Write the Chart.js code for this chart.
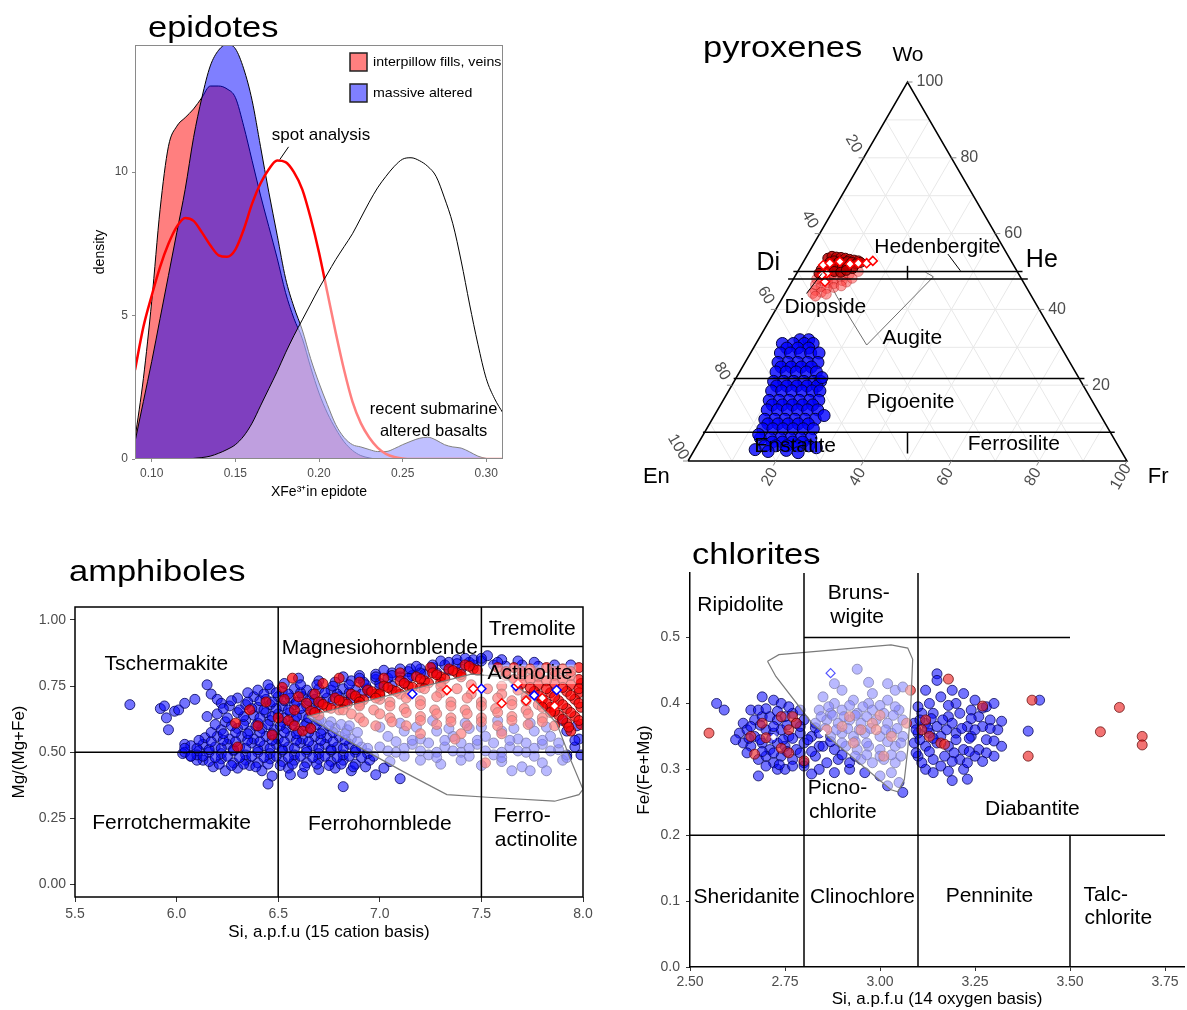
<!DOCTYPE html>
<html lang="en">
<head>
<meta charset="UTF-8">
<title>epidotes, pyroxenes, amphiboles, chlorites</title>
<script src="https://cdn.jsdelivr.net/npm/chart.js"></script>
<style>
  html, body { margin: 0; padding: 0; background: #fff; }
  body { position: relative; width: 1187px; height: 1010px; overflow: hidden; }
  canvas { position: absolute; }
  #epiChart { left: 0; top: 0; }
  #pyxChart { left: 630px; top: 0; }
  #ampChart { left: 0; top: 540px; }
  #chlChart { left: 620px; top: 530px; }
</style>
</head>
<body>
<canvas id="epiChart" width="560" height="510"></canvas>
<canvas id="pyxChart" width="557" height="500"></canvas>
<canvas id="ampChart" width="600" height="410"></canvas>
<canvas id="chlChart" width="570" height="490"></canvas>
<script>
// ---------- data: epidotes (density curves) ----------
const epiX = [0.090,0.095,0.100,0.105,0.110,0.115,0.120,0.125,0.130,0.135,0.140,0.145,0.150,0.155,0.160,
  0.165,0.170,0.175,0.180,0.185,0.190,0.195,0.200,0.205,0.210,0.215,0.220,0.225,0.230,0.235,
  0.240,0.245,0.250,0.255,0.260,0.265,0.270,0.275,0.280,0.285,0.290,0.295,0.300,0.305,0.310];
const epiInterpillow = [0.7,2.8,5.5,8.7,10.9,11.6,11.9,12.2,12.6,13.0,13.0,12.9,12.6,11.6,10.4,
  9.2,8.1,7.0,5.8,4.9,4.2,3.2,2.3,1.6,1.05,0.6,0.3,0.12,0.04,0,
  0,0,0,0,0,0,0,0,0,0,0,0,0,0,0];
const epiMassive = [0.6,2.0,3.4,4.9,6.4,7.9,9.4,11.2,12.6,13.7,14.25,14.45,14.3,13.6,12.5,
  10.9,9.3,7.8,6.3,5.3,4.5,3.5,2.65,1.9,1.2,0.75,0.5,0.42,0.33,0.26,
  0.26,0.36,0.5,0.62,0.72,0.76,0.66,0.5,0.42,0.38,0.25,0.1,0.02,0,0];
const epiSpot = [3.1,4.6,5.7,6.7,7.5,8.1,8.4,8.3,7.9,7.45,7.1,7.05,7.3,8.0,8.9,
  9.6,10.1,10.4,10.35,10.0,9.4,8.4,7.2,5.8,4.4,3.1,2.0,1.25,0.75,0.4,
  0.18,0.07,0.02,0,0,0,0,0,0,0,0,0,0,0,0];
const epiRecent = [0,0,0,0,0,0,0,0.02,0.05,0.1,0.2,0.33,0.5,0.8,1.25,
  1.85,2.45,3.05,3.7,4.3,4.85,5.4,5.95,6.45,6.95,7.4,7.85,8.4,8.95,9.45,
  9.85,10.2,10.45,10.5,10.4,10.2,9.85,9.1,8.2,6.9,5.4,4.0,2.8,2.1,1.6];
const epiTicksX = [0.10,0.15,0.20,0.25,0.30];
const epiTicksY = [0,5,10];

// ---------- data: pyroxenes, [Wo, Fs] in % ----------
const pyxBlue = [
  [32,9.5],[32,11.5],[31,6.0],[31,8.5],[31,11.0],[31,13.0],[29.8,7.6],[29.8,10.1],[29.8,12.6],
  [28.5,6.8],[28.5,9.1],[28.5,11.4],[28.5,13.7],[28.5,15.6],[26,7.5],[26,9.8],[26,12.0],[26,14.3],[26,16.6],
  [24.8,8.8],[24.8,11.1],[24.8,13.4],[24.8,15.7],[23.5,8.3],[23.5,10.6],[23.5,12.9],[23.5,15.2],[23.5,17.5],
  [21,9.0],[21,11.3],[21,13.6],[21,15.9],[21,18.2],[21,19.7],[19.8,10.3],[19.8,12.6],[19.8,14.9],[19.8,17.2],[19.8,19.5],
  [18.5,9.8],[18.5,12.1],[18.5,14.4],[18.5,16.7],[18.5,19.0],[18.5,20.8],[16,10.5],[16,12.8],[16,15.1],[16,17.4],[16,19.7],[16,21.8],
  [14.8,11.8],[14.8,14.1],[14.8,16.4],[14.8,18.7],[14.8,21.0],[13.5,11.3],[13.5,13.6],[13.5,15.9],[13.5,18.2],[13.5,20.5],[13.5,22.8],
  [11,12.0],[11,14.3],[11,16.6],[11,18.9],[11,21.2],[11,23.5],[9.8,13.3],[9.8,15.6],[9.8,17.9],[9.8,20.2],[9.8,22.5],
  [8.5,12.8],[8.5,15.1],[8.5,17.4],[8.5,19.7],[8.5,22.0],[8.5,24.3],[6,13.5],[6,15.8],[6,18.1],[6,20.4],[6,22.7],[6,25.0],
  [5,16.7],[5,19.0],[5,21.3],[5,23.6],[4,15.5],[4,18.0],[4,20.5],[4,23.0],[4,25.5],
  [3.5,27.5],[12,25.0],[22,19.5],[7,12.6],[2.5,17.0],[2.8,21.0],[2.2,24.0],[3.0,13.8]
];
const pyxRedDark = [
  [53.5,5.1],[54.0,5.8],[53.8,6.9],[53.7,8.0],[53.5,9.1],[53.2,10.2],[53.0,11.3],[52.8,12.4],
  [52.5,6.1],[52.8,6.9],[52.5,8.1],[52.3,9.2],[52.6,10.0],[52.4,11.1],[52.0,12.3],[52.4,13.1],
  [51.5,5.6],[51.2,6.9],[51.5,8.1],[51.0,9.6],[51.2,10.7],[50.8,12.1],[50.2,6.7],[50.0,8.3],
  [49.8,9.9],[50.3,10.9],[50.5,5.1],[49.5,5.1]
];
const pyxRedLight = [
  [49.0,6.3],[48.5,7.8],[48.0,9.3],[48.8,10.8],[47.5,6.8],[47.0,8.3],[46.8,9.8],[47.6,11.3],
  [46.0,7.3],[45.5,8.8],[45.0,6.5],[44.5,8.1],[44.2,6.3],[45.8,10.3],[46.5,5.8],[48.0,5.3],
  [49.5,8.3],[49.2,12.1],[47.2,12.5],[46.2,11.8],[48.2,13.3],[50.0,13.8],[44.0,9.5],[43.5,7.3]
];
const pyxSpot = [[51.7,4.95],[52.2,6.2],[52.6,8.3],[52.0,10.9],[52.2,12.7],[52.2,14.6],[52.8,15.7],
  [49.5,6.85],[47.3,7.55],[49.1,5.95]];
const pyxField = [[49.9,7.35],[49.9,29.05],[48.6,31.6],[30.6,25.4],[43.4,12.2],[47.0,8.8],[49.9,7.35]];
const pyxFrame = [[0,0],[0,100],[100,0],[0,0]];
const pyxBounds = [
  [[50,-1],[50,51.2]], [[48,-1.2],[48,53.4]], [[21.8,-0.5],[21.8,79.4]], [[7.6,-0.4],[7.6,93.4]],
  [[47.9,26.05],[51.5,24.25]], [[7.6,46.2],[2.0,49.0]]
];
const pyxTicks = [20,40,60,80,100];

// ---------- data: amphiboles, [Si, Mg/(Mg+Fe)] ----------
const ampBlue = [
  [5.77,0.68],[5.92,0.665],[5.94,0.675],[5.95,0.63],[5.96,0.585],[5.99,0.655],[6.01,0.66],[6.04,0.685],[6.09,0.70],
  [6.04,0.53],[6.03,0.495],[6.07,0.485],[6.11,0.505],[6.13,0.47],[6.17,0.72],[6.15,0.755],[6.2,0.70],[6.22,0.685],
  [6.18,0.445],[6.24,0.43],[6.3,0.44],[6.36,0.45],[6.42,0.43],[6.47,0.41],[6.55,0.44],[6.62,0.42],[6.7,0.435],
  [6.78,0.44],[6.86,0.43],[6.93,0.445],[7.02,0.44],[7.1,0.40],[6.45,0.38],[6.82,0.37],[6.56,0.415],[6.98,0.415],
  [6.1,0.47],[6.16,0.465],[6.22,0.475],[6.28,0.46],[6.34,0.47],[6.4,0.46],[6.46,0.475],[6.52,0.465],[6.58,0.47],
  [6.64,0.46],[6.7,0.475],[6.76,0.465],[6.82,0.47],[6.88,0.455],[6.95,0.47],[7.05,0.465],
  [6.04,0.50],[6.1,0.49],[6.16,0.50],[6.22,0.495],[6.28,0.505],[6.34,0.49],[6.4,0.50],[6.46,0.495],[6.52,0.505],
  [6.58,0.49],[6.64,0.50],[6.7,0.495],[6.76,0.505],[6.82,0.49],[6.88,0.50],[6.94,0.495],
  [6.07,0.525],[6.13,0.53],[6.19,0.52],[6.25,0.53],[6.31,0.52],[6.37,0.535],[6.43,0.525],[6.49,0.53],[6.55,0.52],
  [6.61,0.535],[6.67,0.525],[6.73,0.53],[6.79,0.52],[6.85,0.53],[6.91,0.52],
  [6.14,0.555],[6.2,0.56],[6.26,0.55],[6.32,0.56],[6.38,0.55],[6.44,0.56],[6.5,0.55],[6.56,0.56],[6.62,0.55],
  [6.68,0.56],[6.74,0.555],[6.8,0.56],[6.86,0.55],
  [6.22,0.585],[6.3,0.59],[6.36,0.58],[6.42,0.59],[6.48,0.585],[6.54,0.59],[6.6,0.58],[6.66,0.59],[6.72,0.585],
  [6.78,0.59],[6.84,0.585],
  [6.24,0.615],[6.34,0.62],[6.4,0.61],[6.46,0.62],[6.52,0.615],[6.58,0.62],[6.64,0.61],[6.7,0.62],[6.76,0.615],
  [6.2,0.645],[6.3,0.65],[6.38,0.64],[6.44,0.65],[6.5,0.645],[6.56,0.65],[6.62,0.64],[6.68,0.65],
  [6.26,0.675],[6.34,0.68],[6.4,0.67],[6.46,0.68],[6.52,0.675],[6.58,0.68],[6.64,0.675],[6.7,0.68],
  [6.3,0.705],[6.38,0.71],[6.44,0.70],[6.5,0.71],[6.56,0.705],[6.62,0.71],[6.68,0.70],[6.74,0.705],[6.8,0.71],[6.86,0.705],
  [6.4,0.735],[6.46,0.74],[6.52,0.73],[6.58,0.74],[6.64,0.735],[6.7,0.74],[6.76,0.735],[6.82,0.74],[6.88,0.735],
  [6.94,0.74],[7.0,0.745],[7.06,0.75],[7.12,0.76],
  [6.78,0.765],[6.86,0.77],[6.92,0.765],[6.98,0.775],[7.04,0.78],[7.1,0.785],[7.16,0.79],[7.22,0.795],[7.28,0.80],
  [7.34,0.81],[7.4,0.815],[7.46,0.83],
  [6.9,0.79],[6.98,0.795],[7.06,0.80],[7.14,0.805],[7.2,0.815],[7.26,0.82],[7.32,0.83],[7.38,0.835],[7.44,0.84],
  [7.5,0.845],[7.56,0.83],[7.62,0.825],[7.7,0.83],[7.78,0.825],[7.86,0.83],[7.94,0.83],
  [7.3,0.845],[7.38,0.85],[7.46,0.85],[7.53,0.865],[7.6,0.85],[7.68,0.845],[7.76,0.84],[7.15,0.815],[6.6,0.78],[6.7,0.77],
  [6.21,0.455],[6.27,0.45],[6.33,0.455],[6.39,0.445],[6.45,0.455],[6.51,0.45],[6.57,0.455],[6.63,0.445],[6.69,0.455],
  [6.75,0.45],[6.81,0.455],[6.87,0.445],
  [6.07,0.485],[6.13,0.485],[6.19,0.48],[6.25,0.485],[6.31,0.48],[6.37,0.485],[6.43,0.48],[6.49,0.485],[6.55,0.48],
  [6.61,0.485],[6.67,0.48],[6.73,0.485],[6.79,0.48],[6.85,0.485],[6.91,0.48],[6.97,0.485],
  [6.04,0.515],[6.1,0.515],[6.16,0.51],[6.22,0.515],[6.28,0.51],[6.34,0.515],[6.4,0.51],[6.46,0.515],[6.52,0.51],
  [6.58,0.515],[6.64,0.51],[6.7,0.515],[6.76,0.51],[6.82,0.515],[6.88,0.51],[6.94,0.515],
  [6.11,0.545],[6.17,0.54],[6.23,0.545],[6.29,0.54],[6.35,0.545],[6.41,0.54],[6.47,0.545],[6.53,0.54],[6.59,0.545],
  [6.65,0.54],[6.71,0.545],[6.77,0.54],[6.83,0.545],[6.89,0.54],
  [6.17,0.575],[6.23,0.57],[6.29,0.575],[6.35,0.57],[6.41,0.575],[6.47,0.57],[6.53,0.575],[6.59,0.57],[6.65,0.575],
  [6.71,0.57],[6.77,0.575],[6.83,0.57],[6.89,0.575],
  [6.19,0.605],[6.27,0.6],[6.33,0.605],[6.39,0.6],[6.45,0.605],[6.51,0.6],[6.57,0.605],[6.63,0.6],[6.69,0.605],
  [6.75,0.6],[6.81,0.605],[6.85,0.6],
  [6.15,0.635],[6.25,0.63],[6.33,0.635],[6.41,0.63],[6.47,0.635],[6.53,0.63],[6.59,0.635],[6.65,0.63],[6.71,0.62],
  [6.23,0.665],[6.31,0.66],[6.37,0.665],[6.43,0.66],[6.49,0.665],[6.55,0.66],[6.61,0.665],[6.67,0.66],
  [6.27,0.695],[6.35,0.69],[6.41,0.695],[6.47,0.69],[6.53,0.695],[6.59,0.69],[6.65,0.695],[6.71,0.69],[6.77,0.695],[6.83,0.69],
  [6.35,0.725],[6.43,0.72],[6.49,0.725],[6.55,0.72],[6.61,0.725],[6.67,0.72],[6.73,0.725],[6.79,0.72],[6.85,0.725],
  [6.91,0.72],[6.95,0.725],
  [6.45,0.755],[6.53,0.76],[6.61,0.755],[6.69,0.755],[6.77,0.75],[6.85,0.755],[6.93,0.755],[7.0,0.76],
  [6.82,0.785],[6.9,0.78],[6.98,0.785],[7.06,0.79],[7.14,0.78],[7.2,0.8],
  [7.02,0.81],[7.1,0.815],[7.18,0.825],[7.26,0.83],[7.34,0.84],[7.42,0.855],[7.5,0.855],[7.58,0.84],
  [7.0,0.52],[7.08,0.50],[7.16,0.53],[7.24,0.49],[7.32,0.52],[7.4,0.50],[7.48,0.53],[7.56,0.49],[7.64,0.52],
  [7.72,0.50],[7.8,0.53],[7.88,0.51],[7.96,0.52],
  [7.04,0.56],[7.12,0.58],[7.2,0.55],[7.28,0.58],[7.36,0.56],[7.44,0.59],[7.52,0.56],[7.6,0.58],[7.68,0.55],
  [7.76,0.58],[7.84,0.56],[7.92,0.58],
  [7.2,0.47],[7.3,0.455],[7.4,0.47],[7.5,0.45],[7.6,0.465],[7.7,0.445],[7.8,0.46],[7.9,0.47],[7.65,0.43],[7.74,0.43],[7.82,0.43],
  [7.1,0.61],[7.26,0.62],[7.42,0.61],[7.58,0.62],[7.74,0.61],[7.9,0.62],[7.97,0.60],[7.98,0.55],[7.99,0.49],
  [7.04,0.505],[7.12,0.515],[7.2,0.505],[7.28,0.5],[7.36,0.505],[7.44,0.515],[7.52,0.505],[7.6,0.5],[7.68,0.505],
  [7.76,0.515],[7.84,0.505],[7.92,0.49],
  [7.08,0.54],[7.16,0.545],[7.24,0.535],[7.32,0.545],[7.4,0.535],[7.48,0.545],[7.56,0.535],[7.64,0.545],[7.72,0.535],
  [7.8,0.545],[7.88,0.535],[7.96,0.545],
  [7.0,0.595],[7.18,0.595],[7.34,0.59],[7.5,0.595],[7.66,0.59],[7.82,0.595],
  [7.12,0.485],[7.28,0.48],[7.44,0.485],[7.6,0.48],[7.76,0.485],[7.92,0.48]
];
const ampRed = [
  [6.3,0.52],[6.29,0.61],[6.44,0.69],[6.4,0.60],[6.5,0.63],[6.55,0.62],[6.58,0.60],[6.57,0.78],[6.53,0.70],
  [6.47,0.565],[6.62,0.58],[6.66,0.59],[6.52,0.745],[6.6,0.71],[6.58,0.66],[6.68,0.72],[6.72,0.76],[6.8,0.78],
  [6.9,0.765],[7.02,0.78],[7.1,0.80],[7.25,0.82],[6.36,0.66],[6.64,0.685],
  [6.66,0.655],[6.74,0.67],[6.82,0.69],[6.9,0.70],[6.98,0.72],[7.06,0.735],[7.14,0.75],[7.22,0.77],[7.3,0.785],
  [7.38,0.80],[7.46,0.815],
  [6.7,0.69],[6.78,0.705],[6.86,0.72],[6.94,0.735],[7.02,0.75],[7.1,0.77],[7.18,0.785],[7.26,0.80],[7.34,0.815],[7.42,0.83],
  [6.7,0.64],[6.8,0.66],[6.9,0.68],[7.0,0.70],[7.1,0.72],[7.2,0.745],[7.3,0.765],[7.4,0.785],
  [6.68,0.65],[6.76,0.666],[6.84,0.682],[6.92,0.698],[7.0,0.714],[7.08,0.73],[7.16,0.746],[7.24,0.762],[7.32,0.778],
  [7.4,0.794],[7.48,0.81],
  [6.72,0.681],[6.8,0.697],[6.88,0.713],[6.96,0.729],[7.04,0.745],[7.12,0.761],[7.2,0.777],[7.28,0.793],[7.36,0.809],[7.44,0.825],
  [7.58,0.82],[7.66,0.82],[7.74,0.815],[7.82,0.82],[7.9,0.815],[7.98,0.82],
  [7.62,0.79],[7.7,0.79],[7.78,0.785],[7.86,0.79],[7.94,0.79],
  [7.7,0.76],[7.78,0.755],[7.86,0.76],[7.94,0.755],[7.99,0.76],
  [7.76,0.73],[7.84,0.725],[7.92,0.73],[7.98,0.725],[7.8,0.70],[7.88,0.695],[7.96,0.70],
  [7.84,0.67],[7.92,0.665],[7.99,0.67],[7.88,0.64],[7.96,0.635],[7.92,0.61],[7.99,0.605],[7.94,0.58],
  [7.62,0.805],[7.7,0.805],[7.78,0.8],[7.86,0.805],[7.94,0.805],
  [7.66,0.775],[7.74,0.775],[7.82,0.77],[7.9,0.775],[7.98,0.775],
  [7.74,0.745],[7.82,0.74],[7.9,0.745],[7.98,0.74],[7.78,0.715],[7.86,0.71],[7.94,0.715],
  [7.82,0.685],[7.9,0.68],[7.98,0.685],[7.86,0.655],[7.94,0.65],[7.9,0.625],[7.98,0.62],[7.93,0.595],
  [7.3,0.75],[7.45,0.755],[7.6,0.75],
  [7.0,0.72],[7.15,0.72],[7.3,0.725],[7.45,0.72],[7.6,0.72],[7.72,0.71],
  [6.9,0.69],[7.05,0.69],[7.2,0.695],[7.35,0.69],[7.5,0.69],[7.65,0.695],[7.78,0.68],
  [6.82,0.66],[6.97,0.66],[7.12,0.665],[7.27,0.66],[7.42,0.66],[7.57,0.665],[7.72,0.66],[7.84,0.65],
  [6.9,0.63],[7.05,0.63],[7.2,0.635],[7.35,0.63],[7.5,0.63],[7.65,0.635],[7.8,0.63],
  [6.98,0.60],[7.13,0.60],[7.28,0.605],[7.43,0.60],[7.58,0.60],[7.73,0.605],[7.86,0.60],
  [6.98,0.705],[7.13,0.705],[7.28,0.71],[7.43,0.705],[7.58,0.705],[7.72,0.695],
  [6.9,0.675],[7.05,0.675],[7.2,0.68],[7.35,0.675],[7.5,0.675],[7.65,0.68],[7.8,0.67],
  [6.86,0.645],[7.0,0.645],[7.13,0.65],[7.28,0.645],[7.43,0.645],[7.58,0.65],[7.73,0.645],
  [6.92,0.615],[7.06,0.615],[7.2,0.62],[7.35,0.615],[7.5,0.615],[7.65,0.62],[7.8,0.615],
  [7.22,0.74],[7.38,0.74],[7.53,0.74],[7.68,0.735],
  [7.2,0.57],[7.4,0.57],[7.6,0.57],[7.52,0.46],[7.37,0.55]
];
const ampSpotRed = [[7.33,0.735],[7.46,0.74],[7.6,0.685],[7.72,0.695],[7.68,0.76],[7.8,0.705],[7.86,0.675]];
const ampSpotBlue = [[7.16,0.72],[7.5,0.74],[7.67,0.75],[7.76,0.715],[7.87,0.735]];
const ampField = [[6.64,0.635],[7.45,0.795],[7.61,0.785],[7.76,0.70],[7.87,0.61],[7.94,0.47],[8.0,0.36],
  [7.98,0.34],[7.86,0.315],[7.53,0.33],[7.33,0.34],[7.12,0.425],[6.92,0.51],[6.64,0.635]];
const ampBounds = [[[6.5,-0.05],[6.5,1.05]], [[7.5,-0.05],[7.5,1.05]], [[5.5,0.5],[8.0,0.5]], [[7.5,0.9],[8.0,0.9]]];
const ampTicksX = [5.5,6.0,6.5,7.0,7.5,8.0];
const ampTicksY = [0,0.25,0.5,0.75,1.0];

// ---------- data: chlorites, [Si, Fe/(Fe+Mg)] ----------
const chlBlue = [
  [2.57,0.40],[2.59,0.39],[2.66,0.39],[2.69,0.41],[2.72,0.405],[2.74,0.40],[2.77,0.385],
  [2.64,0.37],[2.67,0.375],[2.69,0.38],[2.71,0.38],[2.73,0.375],[2.75,0.38],[2.78,0.37],[2.8,0.375],
  [2.63,0.355],[2.65,0.36],[2.67,0.35],[2.7,0.36],[2.72,0.355],[2.74,0.36],[2.76,0.35],[2.79,0.355],[2.82,0.35],
  [2.64,0.34],[2.66,0.335],[2.69,0.34],[2.71,0.33],[2.73,0.34],[2.75,0.335],[2.78,0.33],[2.8,0.34],[2.84,0.335],
  [2.68,0.315],[2.7,0.32],[2.72,0.31],[2.74,0.32],[2.77,0.315],[2.8,0.31],[2.83,0.32],[2.86,0.31],
  [2.68,0.29],[2.73,0.30],[2.75,0.30],[2.8,0.305],[2.84,0.30],[2.88,0.295],[2.92,0.30],
  [2.68,0.39],[2.7,0.392],[2.73,0.388],[2.76,0.395],[2.79,0.39],
  [2.66,0.365],[2.685,0.367],[2.72,0.365],[2.755,0.367],[2.79,0.365],[2.83,0.363],
  [2.62,0.345],[2.655,0.347],[2.685,0.345],[2.715,0.347],[2.745,0.345],[2.77,0.347],[2.81,0.345],
  [2.65,0.325],[2.69,0.327],[2.72,0.325],[2.755,0.327],[2.79,0.325],[2.82,0.327],
  [2.7,0.305],[2.735,0.307],[2.77,0.305],[2.82,0.293],
  [3.15,0.445],[3.15,0.435],[3.13,0.40],[3.16,0.41],[3.22,0.415],[3.2,0.40],[3.24,0.39],[3.11,0.385],[3.14,0.385],
  [3.18,0.38],[3.21,0.385],[3.26,0.38],[3.29,0.375],[3.09,0.37],[3.12,0.37],[3.15,0.365],[3.19,0.37],[3.23,0.365],
  [3.27,0.365],[3.31,0.36],[3.1,0.355],[3.13,0.355],[3.16,0.35],[3.2,0.355],[3.24,0.35],[3.28,0.345],[3.32,0.335],
  [3.09,0.34],[3.12,0.335],[3.15,0.34],[3.18,0.335],[3.22,0.33],[3.26,0.33],[3.3,0.32],[3.1,0.32],[3.14,0.315],
  [3.17,0.32],[3.21,0.315],[3.25,0.32],[3.12,0.30],[3.16,0.305],[3.22,0.30],[3.19,0.283],[3.23,0.285],[3.06,0.265],
  [3.39,0.358],[3.42,0.405],[3.28,0.395],[3.25,0.405],
  [3.1,0.395],[3.18,0.397],[3.27,0.393],[3.3,0.4],
  [3.105,0.375],[3.135,0.377],[3.165,0.375],[3.24,0.377],[3.32,0.373],
  [3.095,0.36],[3.125,0.362],[3.175,0.36],[3.215,0.362],[3.25,0.36],[3.29,0.362],
  [3.105,0.345],[3.14,0.347],[3.2,0.345],[3.235,0.347],[3.3,0.343],
  [3.095,0.325],[3.13,0.327],[3.195,0.325],[3.235,0.327],[3.28,0.325],
  [3.11,0.31],[3.19,0.312],[3.23,0.31],[3.27,0.312],[3.14,0.295],[3.18,0.297],[3.19,0.42],[3.12,0.42],
  [2.94,0.452],[2.9,0.42],[2.85,0.41],[2.98,0.415],[3.04,0.42],[3.06,0.425],[2.88,0.40],[2.93,0.405],[2.97,0.40],
  [3.02,0.405],[2.84,0.39],[2.87,0.385],[2.9,0.39],[2.94,0.385],[2.98,0.39],[3.01,0.385],[3.05,0.39],[2.83,0.37],
  [2.86,0.375],[2.89,0.37],[2.92,0.375],[2.95,0.37],[2.99,0.375],[3.02,0.37],[3.06,0.375],[2.84,0.355],[2.87,0.35],
  [2.9,0.355],[2.93,0.35],[2.96,0.355],[3.0,0.35],[3.03,0.355],[3.06,0.35],[2.85,0.335],[2.88,0.33],[2.91,0.335],
  [2.94,0.33],[2.97,0.335],[3.0,0.33],[3.04,0.335],[2.89,0.315],[2.92,0.31],[2.95,0.315],[2.98,0.31],[3.01,0.315],
  [3.04,0.31],[2.96,0.295],[3.0,0.29],[3.03,0.295],[3.05,0.28],[3.02,0.275],
  [2.865,0.395],[2.92,0.397],[2.955,0.395],[3.0,0.397],[3.04,0.395],
  [2.855,0.362],[2.885,0.36],[2.915,0.362],[2.945,0.36],[2.975,0.362],[3.015,0.36],[3.045,0.362],
  [2.87,0.342],[2.9,0.34],[2.935,0.342],[2.965,0.34],[3.02,0.342],[3.055,0.34],
  [2.9,0.322],[2.935,0.32],[2.965,0.322],[3.0,0.32],[3.03,0.322],[3.055,0.32],
  [2.88,0.43],[2.97,0.432],[3.02,0.43],
  [2.845,0.38],[2.875,0.382],[2.905,0.38],[2.935,0.382],[2.965,0.38],[3.035,0.382]
];
const chlRed = [
  [2.55,0.355],[2.66,0.35],[2.69,0.37],[2.7,0.348],[2.67,0.323],[2.74,0.38],[2.76,0.36],[2.77,0.38],[2.78,0.37],
  [2.74,0.332],[2.76,0.325],[2.8,0.313],[2.86,0.36],[2.9,0.365],[2.95,0.36],[2.98,0.37],[2.93,0.34],[3.0,0.382],
  [3.03,0.35],[3.07,0.37],[3.08,0.42],[3.12,0.375],[3.11,0.36],[3.13,0.35],[3.16,0.34],[3.17,0.338],[3.18,0.437],
  [3.27,0.396],[3.4,0.405],[3.58,0.357],[3.63,0.394],[3.69,0.35],[3.69,0.337],[3.39,0.32],[2.99,0.36],[2.92,0.38],[3.01,0.32]
];
const chlSpotBlue = [[2.87,0.446]];
const chlSpotWhite = [[2.72,0.349],[2.85,0.355]];
const chlField = [[2.704,0.464],[2.734,0.474],[3.029,0.489],[3.073,0.484],[3.086,0.467],[3.081,0.396],[3.073,0.33],
  [3.064,0.284],[3.047,0.266],[3.029,0.269],[2.821,0.37],[2.726,0.441],[2.704,0.464]];
const chlBounds = [[[2.8,0],[2.8,0.6]], [[3.1,0],[3.1,0.6]], [[3.5,0],[3.5,0.2]], [[2.5,0.2],[3.75,0.2]],
  [[2.8,0.5],[3.5,0.5]], [[2.5,0.6],[3.8,0.6]]];
const chlTicksX = [2.5,2.75,3.0,3.25,3.5,3.75];
const chlTicksY = [0,0.1,0.2,0.3,0.4,0.5];

// ---------- shared helpers ----------
const FONT = "'Liberation Sans', Arial, Helvetica, sans-serif";
Chart.defaults.font.family = FONT;
Chart.defaults.color = '#4d4d4d';
Chart.defaults.animation = false;
Chart.defaults.events = [];
Chart.defaults.plugins.legend.display = false;
Chart.defaults.plugins.tooltip.enabled = false;

function label(ctx, text, x, y, size, opt = {}) {
  ctx.save();
  ctx.font = size + 'px ' + FONT;
  ctx.fillStyle = opt.color || '#000';
  ctx.textAlign = opt.align || 'center';
  ctx.textBaseline = opt.base || 'middle';
  ctx.translate(x, y);
  if (opt.rot) ctx.rotate(opt.rot);
  if (opt.sx) ctx.scale(opt.sx, 1);
  ctx.fillText(text, 0, 0);
  ctx.restore();
}
function segment(ctx, p, q) {
  ctx.beginPath(); ctx.moveTo(p.x, p.y); ctx.lineTo(q.x, q.y); ctx.stroke();
}
function panelTitle(ctx, text, x, y) {
  label(ctx, text, x, y, 30, {align: 'left', base: 'alphabetic', sx: 1.15});
}
const xy = pairs => pairs.map(([x, y]) => ({x, y}));
const tern = pairs => pairs.map(([wo, fs]) => ({x: fs + wo / 2, y: wo}));
const fixedTicks = list => scale => { scale.ticks = list.map(v => ({value: v})); };
const dots = (data, r, fill, edge, order, extra = {}) =>
  Object.assign({data, pointRadius: r, backgroundColor: fill, borderColor: edge, borderWidth: 1, order, clip: 0}, extra);
const lineSet = (data, color, width, order) =>
  ({data, showLine: true, pointRadius: 0, borderColor: color, borderWidth: width, fill: false, order, clip: 0});

// ---------- epidotes ----------
const epiSeries = values => epiX.map((x, i) => ({x, y: values[i]}));
const epiNotes = {
  id: 'epiNotes',
  afterDatasetsDraw(chart) {
    const {ctx, chartArea: a, scales: {x, y}} = chart;
    ctx.save();
    ctx.strokeStyle = '#8a8a8a'; ctx.lineWidth = 1;
    ctx.strokeRect(a.left + 0.5, a.top + 0.5, a.width - 1, a.height - 1);
    // legend keys
    ctx.lineWidth = 1.5; ctx.strokeStyle = '#222';
    ctx.fillStyle = 'rgba(255,0,0,0.5)';
    ctx.fillRect(a.right - 153, a.top + 8, 17, 18); ctx.strokeRect(a.right - 153, a.top + 8, 17, 18);
    ctx.fillStyle = 'rgba(0,0,255,0.5)';
    ctx.fillRect(a.right - 153, a.top + 39, 17, 18); ctx.strokeRect(a.right - 153, a.top + 39, 17, 18);
    ctx.restore();
    label(ctx, 'interpillow fills, veins', a.right - 130, a.top + 17, 13.5, {align: 'left', sx: 1.05});
    label(ctx, 'massive altered', a.right - 130, a.top + 48, 13.5, {align: 'left', sx: 1.05});
    label(ctx, 'spot analysis', x.getPixelForValue(0.2012), y.getPixelForValue(11.29), 17);
    ctx.save(); ctx.strokeStyle = '#000'; ctx.lineWidth = 1;
    segment(ctx, {x: x.getPixelForValue(0.1818), y: y.getPixelForValue(10.88)},
                 {x: x.getPixelForValue(0.1766), y: y.getPixelForValue(10.44)});
    ctx.restore();
    label(ctx, 'recent submarine', x.getPixelForValue(0.2685), y.getPixelForValue(1.71), 16.5);
    label(ctx, 'altered basalts', x.getPixelForValue(0.2685), y.getPixelForValue(0.95), 16.5);
  },
  afterDraw(chart) { panelTitle(chart.ctx, 'epidotes', 148, 37); }
};
new Chart(document.getElementById('epiChart'), {
  type: 'line',
  data: { datasets: [
    { data: epiSeries(epiInterpillow), borderColor: '#000', borderWidth: 1, backgroundColor: 'rgba(255,0,0,0.5)', fill: 'origin', order: 4, clip: 0 },
    { data: epiSeries(epiMassive), borderColor: '#000', borderWidth: 1, backgroundColor: 'rgba(0,0,255,0.5)', fill: 'origin', order: 3, clip: 0 },
    { data: epiSeries(epiSpot), borderColor: '#ff0000', borderWidth: 2.5, fill: false, order: 2, clip: 0 },
    { data: epiSeries(epiRecent), borderColor: '#000', borderWidth: 1, backgroundColor: 'rgba(255,255,255,0.5)', fill: 'origin', order: 1, clip: 0 }
  ]},
  options: {
    responsive: false,
    layout: { padding: { left: 88, right: 57, top: 45, bottom: 5 } },
    elements: { point: { radius: 0 }, line: { cubicInterpolationMode: 'monotone' } },
    scales: {
      x: { type: 'linear', min: 0.09, max: 0.31, afterBuildTicks: fixedTicks(epiTicksX), afterFit: s => { s.height = 46; },
           grid: { drawOnChartArea: false, tickLength: 3, color: '#8a8a8a' }, border: { display: false },
           ticks: { autoSkip: false, maxRotation: 0, padding: 4, font: { size: 12 }, callback: v => v.toFixed(2) },
           title: { display: true, text: 'XFe³⁺in epidote', color: '#000', font: { size: 14 } } },
      y: { type: 'linear', min: 0, max: 14.43, afterBuildTicks: fixedTicks(epiTicksY), afterFit: s => { s.width = 47; },
           grid: { drawOnChartArea: false, tickLength: 3, color: '#8a8a8a' }, border: { display: false },
           ticks: { padding: 4, font: { size: 12 } },
           title: { display: true, text: 'density', color: '#000', font: { size: 14 } } }
    }
  },
  plugins: [epiNotes]
});

// ---------- pyroxenes (ternary Wo-En-Fs) ----------
const pyxNotes = {
  id: 'pyxNotes',
  beforeDatasetsDraw(chart) {
    const {ctx, scales: {x, y}} = chart;
    const P = (wo, fs) => ({x: x.getPixelForValue(fs + wo / 2), y: y.getPixelForValue(wo)});
    ctx.save();
    ctx.strokeStyle = '#e8e8e8'; ctx.lineWidth = 1;
    for (let v = 10; v < 100; v += 10) {
      segment(ctx, P(v, 0), P(v, 100 - v));
      segment(ctx, P(0, v), P(100 - v, v));
      segment(ctx, P(0, 100 - v), P(100 - v, 0));
    }
    ctx.restore();
  },
  afterDatasetsDraw(chart) {
    const {ctx, scales: {x, y}} = chart;
    const P = (wo, fs) => ({x: x.getPixelForValue(fs + wo / 2), y: y.getPixelForValue(wo)});
    const A = (X, Y) => ({x: x.getPixelForValue(X), y: y.getPixelForValue(Y)});
    ctx.save();
    ctx.strokeStyle = '#8a8a8a'; ctx.lineWidth = 1;
    pyxTicks.forEach(v => {
      const r = P(v, 100 - v);
      segment(ctx, r, {x: r.x + 5, y: r.y});
      label(ctx, String(v), r.x + 9, r.y, 16, {align: 'left', color: '#4d4d4d'});
      const l = P(100 - v, 0);
      segment(ctx, l, {x: l.x - 5, y: l.y});
      label(ctx, String(v), l.x - 10, l.y - 14, 16, {rot: Math.PI / 3, color: '#4d4d4d'});
      const b = P(0, v);
      segment(ctx, b, {x: b.x - 2.5, y: b.y + 4.5});
      label(ctx, String(v), b.x - 6, b.y + 16, 16, {rot: -Math.PI / 3, color: '#4d4d4d'});
    });
    ctx.strokeStyle = '#000';
    segment(ctx, A(27.0, 44.2), A(30.5, 49.5));
    segment(ctx, A(59.2, 54.6), A(62.05, 50.2));
    ctx.restore();
    const names = [['Hedenbergite', 56.8, 56.5, 21], ['Diopside', 31.3, 40.7, 21], ['Augite', 51.1, 32.4, 21],
      ['Pigoenite', 50.7, 15.6, 21], ['Enstatite', 24.4, 4.0, 21], ['Ferrosilite', 74.2, 4.4, 21],
      ['Di', 18.3, 52.2, 25], ['He', 80.6, 53.0, 25], ['Wo', 50.1, 107.1, 21], ['En', -7.2, -4.1, 22], ['Fr', 107.1, -4.1, 22]];
    names.forEach(([t, X, Y, s]) => { const p = A(X, Y); label(ctx, t, p.x, p.y, s); });
  },
  afterDraw(chart) { panelTitle(chart.ctx, 'pyroxenes', 73, 57); }
};
new Chart(document.getElementById('pyxChart'), {
  type: 'scatter',
  data: { datasets: [
    Object.assign(lineSet(tern(pyxFrame), '#000', 1.5, 1), {clip: false}),
    ...pyxBounds.map(s => Object.assign(lineSet(tern(s), '#000', 1.5, 1), {clip: false})),
    Object.assign(lineSet(tern(pyxField), '#6e6e6e', 1, 9), {clip: false}),
    dots(tern(pyxBlue), 6, 'rgba(0,0,255,0.8)', '#00003a', 8, {clip: false}),
    dots(tern(pyxRedLight), 5, 'rgba(255,70,70,0.5)', 'rgba(150,0,0,0.35)', 7, {clip: false}),
    dots(tern(pyxRedDark), 5, 'rgba(195,0,0,0.85)', '#400000', 6, {clip: false}),
    dots(tern(pyxSpot), 4.5, '#ffffff', '#ff0000', 5, {clip: false, pointStyle: 'rectRot', borderWidth: 1.5})
  ]},
  options: {
    responsive: false,
    layout: { padding: { left: 58, right: 60, top: 82, bottom: 39 } },
    scales: {
      x: { type: 'linear', display: false, min: 0, max: 100 },
      y: { type: 'linear', display: false, min: 0, max: 100 }
    }
  },
  plugins: [pyxNotes]
});

// ---------- amphiboles ----------
const ampNotes = {
  id: 'ampNotes',
  afterDatasetsDraw(chart) {
    const {ctx, chartArea: a, scales: {x, y}} = chart;
    const A = (X, Y) => ({x: x.getPixelForValue(X), y: y.getPixelForValue(Y)});
    ctx.save();
    const b0 = A(7.513, 0.831), b1 = A(7.966, 0.758);
    ctx.fillStyle = 'rgba(255,255,255,0.45)';
    ctx.fillRect(b0.x, b0.y, b1.x - b0.x, b1.y - b0.y);
    ctx.strokeStyle = '#000'; ctx.lineWidth = 1.5;
    ctx.strokeRect(a.left, a.top, a.width, a.height);
    ctx.restore();
    const names = [['Tschermakite', 5.95, 0.834], ['Magnesiohornblende', 7.0, 0.893], ['Tremolite', 7.75, 0.965],
      ['Actinolite', 7.74, 0.80], ['Ferrotchermakite', 5.975, 0.231], ['Ferrohornblede', 7.0, 0.229],
      ['Ferro-', 7.70, 0.259], ['actinolite', 7.77, 0.168]];
    names.forEach(([t, X, Y]) => { const p = A(X, Y); label(ctx, t, p.x, p.y, 21); });
  },
  afterDraw(chart) { panelTitle(chart.ctx, 'amphiboles', 69, 41); }
};
new Chart(document.getElementById('ampChart'), {
  type: 'scatter',
  data: { datasets: [
    dots(xy(ampBlue), 5, 'rgba(0,0,255,0.55)', 'rgba(0,0,90,0.8)', 8),
    dots(xy(ampRed), 5, 'rgba(255,0,0,0.7)', 'rgba(100,0,0,0.8)', 7),
    Object.assign(lineSet(xy(ampField), '#7a7a7a', 1.2, 6), {fill: 'shape', backgroundColor: 'rgba(255,255,255,0.5)'}),
    ...ampBounds.map(s => lineSet(xy(s), '#000', 1.5, 4)),
    dots(xy(ampSpotRed), 4.5, '#ffffff', '#ff0000', 2, {pointStyle: 'rectRot', borderWidth: 1.5}),
    dots(xy(ampSpotBlue), 4.5, '#ffffff', '#0000ff', 2, {pointStyle: 'rectRot', borderWidth: 1.5})
  ]},
  options: {
    responsive: false,
    layout: { padding: { left: 5, right: 17, top: 67, bottom: 3 } },
    scales: {
      x: { type: 'linear', min: 5.5, max: 8.0, afterBuildTicks: fixedTicks(ampTicksX), afterFit: s => { s.height = 50; },
           grid: { drawOnChartArea: false, tickLength: 5, color: '#333' }, border: { display: false },
           ticks: { autoSkip: false, maxRotation: 0, padding: 4, font: { size: 14 }, callback: v => v.toFixed(1) },
           title: { display: true, text: 'Si, a.p.f.u (15 cation basis)', color: '#000', font: { size: 17 } } },
      y: { type: 'linear', min: -0.047, max: 1.049, afterBuildTicks: fixedTicks(ampTicksY), afterFit: s => { s.width = 70; },
           grid: { drawOnChartArea: false, tickLength: 5, color: '#333' }, border: { display: false },
           ticks: { padding: 4, font: { size: 14 }, callback: v => v.toFixed(2) },
           title: { display: true, text: 'Mg/(Mg+Fe)', color: '#000', font: { size: 17 } } }
    }
  },
  plugins: [ampNotes]
});

// ---------- chlorites ----------
const chlNotes = {
  id: 'chlNotes',
  afterDatasetsDraw(chart) {
    const {ctx, scales: {x, y}} = chart;
    const names = [['Ripidolite', 2.633, 0.549], ['Bruns-', 2.944, 0.568], ['wigite', 2.94, 0.531],
      ['Picno-', 2.888, 0.271], ['chlorite', 2.902, 0.235], ['Diabantite', 3.401, 0.239],
      ['Sheridanite', 2.649, 0.106], ['Clinochlore', 2.954, 0.106], ['Penninite', 3.288, 0.108],
      ['Talc-', 3.594, 0.109], ['chlorite', 3.627, 0.0735]];
    names.forEach(([t, X, Y]) => label(ctx, t, x.getPixelForValue(X), y.getPixelForValue(Y), 21));
  },
  afterDraw(chart) { panelTitle(chart.ctx, 'chlorites', 72, 34); }
};
new Chart(document.getElementById('chlChart'), {
  type: 'scatter',
  data: { datasets: [
    dots(xy(chlBlue), 5, 'rgba(0,0,255,0.55)', 'rgba(0,0,80,0.75)', 8),
    dots(xy(chlRed), 5, 'rgba(235,40,40,0.65)', 'rgba(90,0,0,0.7)', 7),
    Object.assign(lineSet(xy(chlField), '#7a7a7a', 1.2, 6), {fill: 'shape', backgroundColor: 'rgba(255,255,255,0.5)'}),
    ...chlBounds.map(s => lineSet(xy(s), '#000', 1.5, 4)),
    dots(xy(chlSpotBlue), 4.5, '#ffffff', '#5555ff', 2, {pointStyle: 'rectRot', borderWidth: 1.2}),
    dots(xy(chlSpotWhite), 3, '#ffffff', '#ffffff', 2, {pointStyle: 'rectRot'})
  ]},
  options: {
    responsive: false,
    layout: { padding: { left: 10, right: 1, top: 43, bottom: 6 } },
    scales: {
      x: { type: 'linear', min: 2.5, max: 3.8, afterBuildTicks: fixedTicks(chlTicksX), afterFit: s => { s.height = 47; },
           grid: { drawOnChartArea: false, tickLength: 4, color: '#333' }, border: { display: true, color: '#000', width: 1.5 },
           ticks: { autoSkip: false, maxRotation: 0, padding: 3, font: { size: 14 }, callback: v => v.toFixed(2) },
           title: { display: true, text: 'Si, a.p.f.u (14 oxygen basis)', color: '#000', font: { size: 17 } } },
      y: { type: 'linear', min: 0, max: 0.598, afterBuildTicks: fixedTicks(chlTicksY), afterFit: s => { s.width = 60; },
           grid: { drawOnChartArea: false, tickLength: 4, color: '#333' }, border: { display: true, color: '#000', width: 1.5 },
           ticks: { padding: 6, font: { size: 14 }, callback: v => v.toFixed(1) },
           title: { display: true, text: 'Fe/(Fe+Mg)', color: '#000', font: { size: 17 } } }
    }
  },
  plugins: [chlNotes]
});
</script>
</body>
</html>
